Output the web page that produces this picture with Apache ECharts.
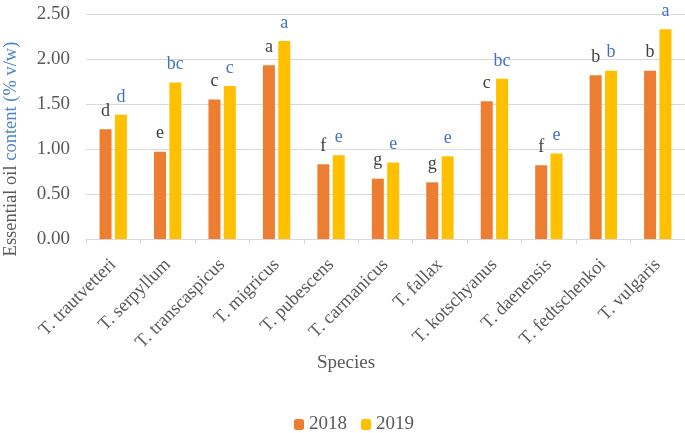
<!DOCTYPE html>
<html><head><meta charset="utf-8">
<script src="https://cdn.jsdelivr.net/npm/echarts@6/dist/echarts.min.js"></script>
<style>html,body{margin:0;padding:0;background:#fff}#c{width:685px;height:433px}</style>
</head><body><div id="c"></div>
<script>
var categories = ['T. trautvetteri','T. serpyllum','T. transcaspicus','T. migricus','T. pubescens','T. carmanicus','T. fallax','T. kotschyanus','T. daenensis','T. fedtschenkoi','T. vulgaris'];
var values2018 = [1.22,0.97,1.55,1.93,0.83,0.67,0.63,1.53,0.82,1.82,1.87];
var values2019 = [1.38,1.74,1.70,2.20,0.93,0.85,0.92,1.78,0.95,1.87,2.33];
var letters2018 = ['d','e','c','a','f','g','g','c','f','b','b'];
var letters2019 = ['d','bc','c','a','e','e','e','bc','e','b','a'];
var yTicks = ['0.00','0.50','1.00','1.50','2.00','2.50'];

var font = '"Liberation Serif","Times New Roman",serif';
var chart = echarts.init(document.getElementById('c'));
function mk(vals, letters){ return vals.map(function(v,i){ return {value:v, label:{formatter:letters[i]}}; }); }
chart.setOption({
  animation:false,
  textStyle:{fontFamily:font},
  grid:{left:86,right:0,top:14,bottom:194,containLabel:false},
  legend:{top:410,left:289,itemWidth:10,itemHeight:11,itemGap:14,
    textStyle:{fontFamily:font,fontSize:19,color:'#595959'},data:['2018','2019']},
  graphic:[
    {type:'text',x:11,y:149,rotation:Math.PI/2,
     style:{text:'{a|Essential oil }{b|content (% v/w)}',align:'center',verticalAlign:'middle',
      rich:{a:{fontFamily:font,fontSize:18.5,fill:'#595959'},b:{fontFamily:font,fontSize:18.5,fill:'#4a86c8'}}}},
    {type:'text',x:346,y:363,
     style:{text:'Species',align:'center',verticalAlign:'middle',fontFamily:font,fontSize:19,fill:'#595959'}}
  ],
  xAxis:{type:'category',data:categories,
    axisLine:{lineStyle:{color:'#d9d9d9'}},
    axisTick:{show:true,length:5,lineStyle:{color:'#d9d9d9'}},
    axisLabel:{rotate:45,fontFamily:font,fontSize:18.5,color:'#595959',margin:23}},
  yAxis:{type:'value',min:0,max:2.5,interval:0.5,
    axisLine:{show:false},axisTick:{show:false},
    splitLine:{lineStyle:{color:'#d9d9d9',width:1}},
    axisLabel:{fontFamily:font,fontSize:19,color:'#595959',margin:16,
      formatter:function(v){return yTicks[Math.round(v/0.5)];}}},
  series:[
    {name:'2018',type:'bar',data:mk(values2018,letters2018),barWidth:12,barGap:'28%',
     itemStyle:{color:'#ed7d31'},
     label:{show:true,position:'top',distance:9,fontFamily:font,fontSize:18,color:'#404040'}},
    {name:'2019',type:'bar',data:mk(values2019,letters2019),barWidth:12,
     itemStyle:{color:'#ffc000'},
     label:{show:true,position:'top',distance:9,fontFamily:font,fontSize:18,color:'#4472c4'}}
  ]
});
</script></body></html>
